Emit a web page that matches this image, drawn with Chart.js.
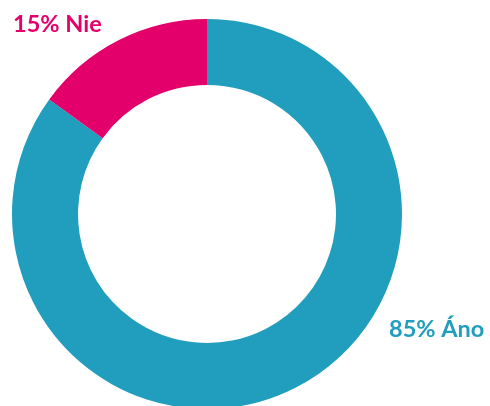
<!DOCTYPE html>
<html>
<head>
<meta charset="utf-8">
<script src="https://cdn.jsdelivr.net/npm/chart.js@4"></script>
<style>
  html, body { margin: 0; padding: 0; background: #fff; }
  #wrap { width: 490px; height: 406px; }
</style>
</head>
<body>
<div id="wrap"><canvas id="myChart" width="490" height="406"></canvas></div>
<script>
'use strict';

let labels = ['Áno', 'Nie'];
let values = [85, 15];
let colors = ['#219ebd', '#e4006b'];

// where each slice's text goes (left edge, baseline)
let labelSpots = [
  { x: 389, y: 337 },
  { x: 13, y: 32 }
];

let sliceLabels = {
  id: 'sliceLabels',
  afterDatasetsDraw(chart) {
    let ctx = chart.ctx;
    ctx.save();
    ctx.font = 'bold 23.5px Lato';
    ctx.textAlign = 'left';
    ctx.textBaseline = 'alphabetic';
    for (let i = 0; i < values.length; i++) {
      ctx.fillStyle = colors[i];
      ctx.fillText(`${values[i]}% ${labels[i]}`, labelSpots[i].x, labelSpots[i].y);
    }
    ctx.restore();
  }
};

let ctx = document.getElementById('myChart');
let myChart = new Chart(ctx, {
  type: 'doughnut',
  data: {
    labels: labels,
    datasets: [{
      data: values,
      backgroundColor: colors,
      borderWidth: 0
    }]
  },
  options: {
    responsive: false,
    animation: false,
    radius: 195,
    cutout: 127,
    layout: {
      padding: { top: 22, bottom: 0, left: 0, right: 76 }
    },
    plugins: {
      legend: { display: false },
      tooltip: { enabled: false }
    }
  },
  plugins: [sliceLabels]
});
</script>
</body>
</html>
